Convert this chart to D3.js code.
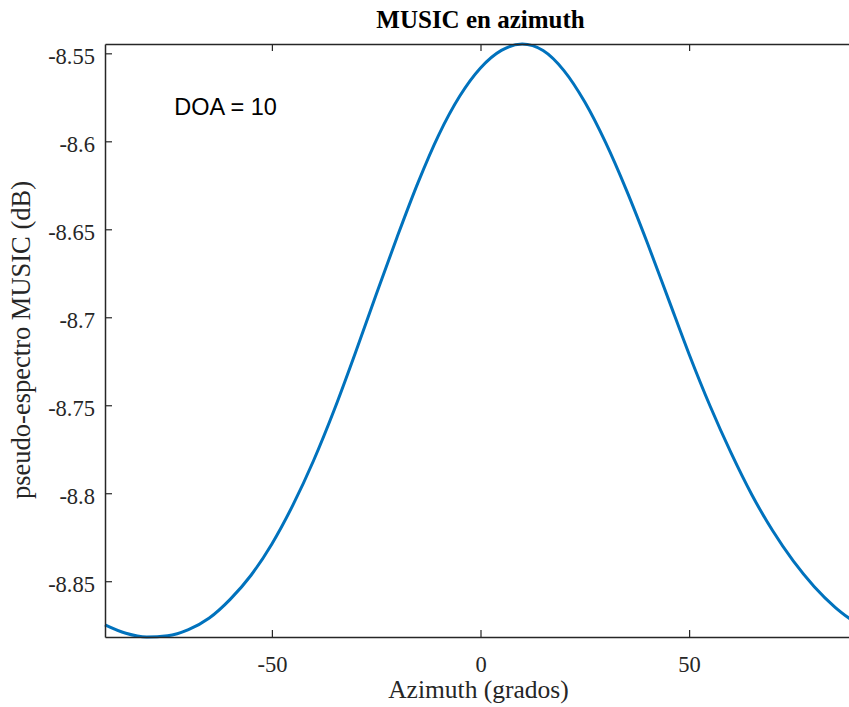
<!DOCTYPE html>
<html>
<head>
<meta charset="utf-8">
<script src="https://cdn.jsdelivr.net/npm/d3@7"></script>
<style>
    body { margin: 0; background: #fff; }
    svg { display: block; }
</style>
</head>
<body>
<svg id="chart" width="849" height="707"></svg>
<script>
// azimuth angles (grados) and pseudo-spectrum values
const azimuth = [-90, -85, -80, -75, -70, -65, -60, -55, -50, -45, -40, -35, -30, -25, -20, -15, -10, -5,
    0, 5, 10, 15, 20, 25, 30, 35, 40, 45, 50, 55, 60, 65, 70, 75, 80, 85, 90];
const spectrum = [-8.8748, -8.8796, -8.8817, -8.8810, -8.8775, -8.8709, -8.8603, -8.8466, -8.8288, -8.8069,
    -8.7814, -8.7523, -8.7203, -8.6871, -8.6545, -8.6236, -8.5963, -8.5744,
    -8.5583, -8.5483, -8.5447, -8.5484, -8.5598, -8.5777, -8.6008, -8.6279, -8.6578, -8.6894,
    -8.7210, -8.7503, -8.7768, -8.8007, -8.8212, -8.8386, -8.8531, -8.8648, -8.8739];
const xTicks = [-50, 0, 50];
const yTicks = [-8.55, -8.6, -8.65, -8.7, -8.75, -8.8, -8.85];
const doa = 10;

const margin = { left: 105, right: 856, top: 44, bottom: 637 };
const serif = "'Liberation Serif', 'Times New Roman', serif";
const axisColor = "#262626";

const svg = d3.select("#chart");

const xScale = d3.scaleLinear()
    .domain([-90, 90])
    .range([margin.left, margin.right]);

// axis tight, like MATLAB
const yScale = d3.scaleLinear()
    .domain(d3.extent(spectrum))
    .range([margin.bottom, margin.top]);

const data = azimuth.map((a, i) => ({ a, v: spectrum[i] }));

const line = d3.line()
    .x(d => xScale(d.a))
    .y(d => yScale(d.v))
    .curve(d3.curveMonotoneX);

svg.append("path")
    .datum(data)
    .attr("fill", "none")
    .attr("stroke", "#0072BD")
    .attr("stroke-width", 3)
    .attr("d", line);

// axes: ticks point inward on all four sides
const tickLen = 7;
const styleAxis = g => {
    g.select(".domain").attr("stroke", axisColor).attr("stroke-width", 1.5);
    g.selectAll(".tick line").attr("stroke", axisColor).attr("stroke-width", 1.2);
    g.selectAll("text")
        .attr("fill", axisColor)
        .style("font-family", serif)
        .style("font-size", "22.5px");
};

svg.append("g")
    .attr("transform", `translate(0,${margin.bottom})`)
    .call(d3.axisBottom(xScale).tickValues(xTicks).tickSizeInner(-tickLen).tickSizeOuter(0).tickFormat(d => String(d)))
    .call(styleAxis)
    .call(g => g.selectAll(".tick text").attr("y", 35).attr("dy", null));

svg.append("g")
    .attr("transform", `translate(0,${margin.top})`)
    .call(d3.axisTop(xScale).tickValues(xTicks).tickSizeInner(-tickLen).tickSizeOuter(0).tickFormat(""))
    .call(styleAxis);

svg.append("g")
    .attr("transform", `translate(${margin.left},0)`)
    .call(d3.axisLeft(yScale).tickValues(yTicks).tickSizeInner(-tickLen).tickSizeOuter(0).tickFormat(d => String(d)))
    .call(styleAxis)
    .call(g => g.selectAll(".tick text").attr("x", -10).attr("dy", "0.45em"));

svg.append("g")
    .attr("transform", `translate(${margin.right},0)`)
    .call(d3.axisRight(yScale).tickValues(yTicks).tickSizeInner(-tickLen).tickSizeOuter(0).tickFormat(""))
    .call(styleAxis);

// title and labels
svg.append("text")
    .attr("x", (margin.left + margin.right) / 2)
    .attr("y", 28)
    .attr("text-anchor", "middle")
    .style("font-family", serif)
    .style("font-size", "25px")
    .style("font-weight", "bold")
    .attr("fill", "#000")
    .text("MUSIC en azimuth");

svg.append("text")
    .attr("x", (margin.left + margin.right) / 2 - 2)
    .attr("y", 698)
    .attr("text-anchor", "middle")
    .style("font-family", serif)
    .style("font-size", "25.5px")
    .attr("fill", axisColor)
    .text("Azimuth (grados)");

svg.append("text")
    .attr("transform", `translate(30,340) rotate(-90)`)
    .attr("text-anchor", "middle")
    .style("font-family", serif)
    .style("font-size", "26.5px")
    .attr("fill", axisColor)
    .text("pseudo-espectro MUSIC (dB)");

// DOA annotation
svg.append("text")
    .attr("x", xScale(-73.4))
    .attr("y", yScale(-8.585))
    .style("font-family", "'Liberation Sans', Arial, sans-serif")
    .style("font-size", "23.5px")
    .attr("fill", "#000")
    .text(`DOA = ${doa}`);
</script>
</body>
</html>
